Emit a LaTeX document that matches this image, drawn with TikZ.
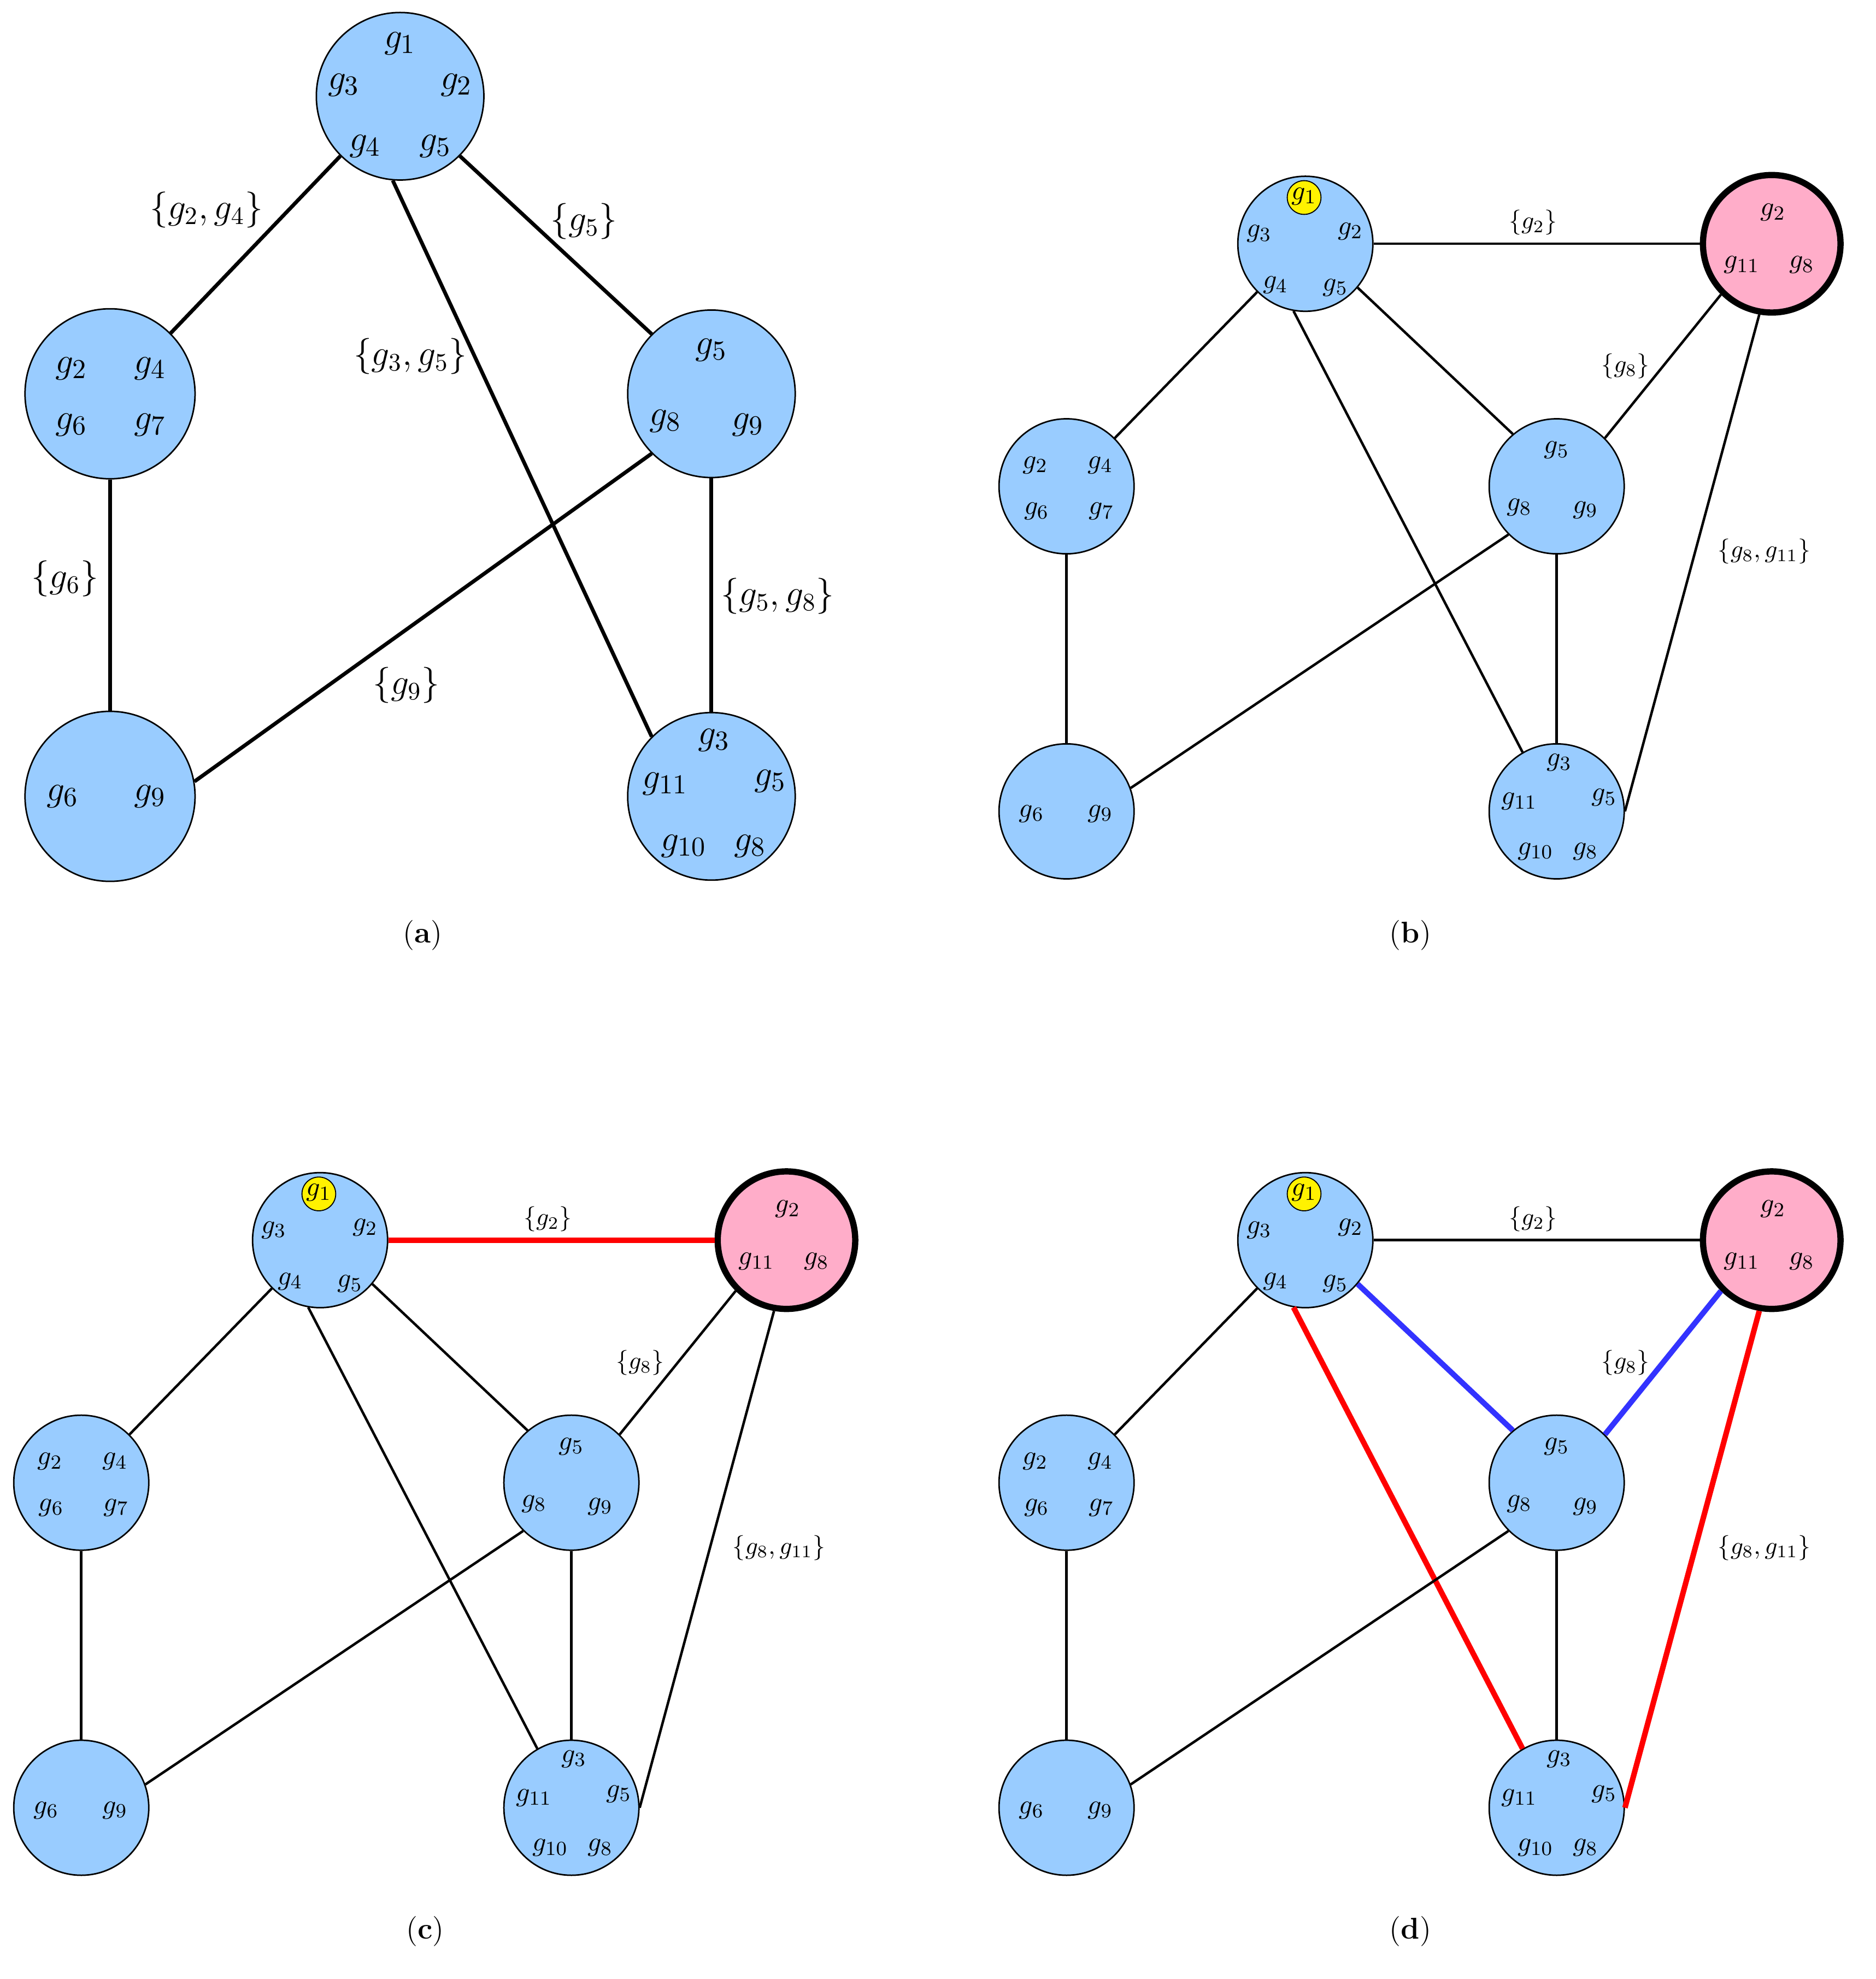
\documentclass[tikz,border=0pt]{standalone}
\usepackage{xcolor}
\definecolor{nblue}{HTML}{99CCFF}
\definecolor{npink}{HTML}{FFADC9}
\definecolor{eblue}{HTML}{3333FF}
\begin{document}
\begin{tikzpicture}[x=0.5pt,y=-0.5pt,
 bnode/.style={circle,draw,fill=nblue,line width=0.6pt,inner sep=0pt},
 pnode/.style={circle,draw,fill=npink,line width=2.5pt,inner sep=0pt,minimum size=55pt},
 glab/.style={inner sep=0pt,font=\fontsize{11}{13}\selectfont},
 biglab/.style={inner sep=0pt,font=\fontsize{15}{17}\selectfont},
 elab/.style={inner sep=1pt,font=\fontsize{10}{12}\selectfont},
 bigelab/.style={inner sep=1pt,font=\fontsize{14}{16}\selectfont},
 captxt/.style={font=\fontsize{12}{14}\selectfont},
 edge/.style={line width=1pt},
 bigedge/.style={line width=1.5pt},
 redge/.style={line width=2.2pt,red},
 bledge/.style={line width=2.2pt,eblue}]
\useasboundingbox (0,0) rectangle (1500,1583);
% ---------- panel (a)
\node[bnode,minimum size=67pt] (a1) at (320,77) {};
\node[bnode,minimum size=68pt] (a2) at (88,315) {};
\node[bnode,minimum size=67pt] (a3) at (569,315) {};
\node[bnode,minimum size=68pt] (a4) at (88,637) {};
\node[bnode,minimum size=67pt] (a5) at (569,637) {};
\node[biglab] (a1l1) at (320,35) {$g_1$};
\node[biglab] (a1l3) at (275,68) {$g_3$};
\node[biglab] (a1l2) at (365,68) {$g_2$};
\node[biglab] (a1l4) at (292,117) {$g_4$};
\node[biglab] (a1l5) at (348,117) {$g_5$};
\node[biglab] (a2l2) at (57,295) {$g_2$};
\node[biglab] (a2l4) at (120,295) {$g_4$};
\node[biglab] (a2l6) at (57,340) {$g_6$};
\node[biglab] (a2l7) at (120,340) {$g_7$};
\node[biglab] (a3l5) at (569,280) {$g_5$};
\node[biglab] (a3l8) at (532,337) {$g_8$};
\node[biglab] (a3l9) at (598,340) {$g_9$};
\node[biglab] (a4l6) at (50,637) {$g_6$};
\node[biglab] (a4l9) at (120,637) {$g_9$};
\node[biglab] (a5l3) at (571,592) {$g_3$};
\node[biglab] (a5l11) at (532,627) {$g_{11}$};
\node[biglab] (a5l5) at (616,625) {$g_5$};
\node[biglab] (a5l10) at (547,677) {$g_{10}$};
\node[biglab] (a5l8) at (600,677) {$g_8$};
\draw[bigedge] (a1.225) -- (a2.45);
\draw[bigedge] (a1.-45) -- (a3.135);
\draw[bigedge] (a1.-95) -- (a5.135);
\draw[bigedge] (a2) -- (a4);
\draw[bigedge] (a3.225) -- (a4.10);
\draw[bigedge] (a3) -- (a5);
\node[bigelab] (ea1) at (165,168) {$\{g_2,g_4\}$};
\node[bigelab] (ea2) at (467,177) {$\{g_5\}$};
\node[bigelab] (ea3) at (328,285) {$\{g_3,g_5\}$};
\node[bigelab] (ea4) at (52,463) {$\{g_6\}$};
\node[bigelab] (ea5) at (622,477) {$\{g_5,g_8\}$};
\node[bigelab] (ea6) at (325,548) {$\{g_9\}$};
\node[captxt] (capa) at (338,748) {(\textbf{a})};
% ---------- panels b,c,d
\newcommand\gpanel[9]{%
\begin{scope}[shift={(#2,#3)}]
\node[bnode,minimum size=54pt] (#1n1) at (1044,195) {};
\node[pnode] (#1n2) at (1417,195) {};
\node[bnode,minimum size=54pt] (#1n3) at (853,389) {};
\node[bnode,minimum size=54pt] (#1n4) at (1245,389) {};
\node[bnode,minimum size=54pt] (#1n5) at (853,649) {};
\node[bnode,minimum size=54pt] (#1n6) at (1245,649) {};
\node[circle,fill=yellow,draw,line width=0.4pt,minimum size=13.5pt,inner sep=0pt] (#1y) at (1043,158) {};
\node[glab] (#1a1) at (1043,157) {$g_1$};
\node[glab] (#1a3) at (1007,187) {$g_3$};
\node[glab] (#1a2) at (1080,185) {$g_2$};
\node[glab] (#1a4) at (1020,228) {$g_4$};
\node[glab] (#1a5) at (1068,230) {$g_5$};
\node[glab] (#1b2) at (1418,170) {$g_2$};
\node[glab] (#1b11) at (1393,212) {$g_{11}$};
\node[glab] (#1b8) at (1441,212) {$g_8$};
\node[glab] (#1c2) at (828,372) {$g_2$};
\node[glab] (#1c4) at (880,372) {$g_4$};
\node[glab] (#1c6) at (829,409) {$g_6$};
\node[glab] (#1c7) at (881,409) {$g_7$};
\node[glab] (#1d5) at (1245,360) {$g_5$};
\node[glab] (#1d8) at (1215,406) {$g_8$};
\node[glab] (#1d9) at (1268,408) {$g_9$};
\node[glab] (#1e6) at (825,651) {$g_6$};
\node[glab] (#1e9) at (880,651) {$g_9$};
\node[glab] (#1f3) at (1247,610) {$g_3$};
\node[glab] (#1f11) at (1215,641) {$g_{11}$};
\node[glab] (#1f5) at (1283,638) {$g_5$};
\node[glab] (#1f10) at (1228,681) {$g_{10}$};
\node[glab] (#1f8) at (1268,681) {$g_8$};
\draw[#4] (#1n1.east) -- (#1n2.west);
\draw[edge] (#1n1.225) -- (#1n3.45);
\draw[#5] (#1n1.-40) -- (#1n4.130);
\draw[#6] (#1n1.-100) -- (#1n6.120);
\draw[#7] (#1n2.225) -- (#1n4.45);
\draw[#8] (#1n2.-100) -- (#1n6.east);
\draw[edge] (#1n3) -- (#1n5);
\draw[edge] (#1n4.225) -- (#1n5.20);
\draw[edge] (#1n4) -- (#1n6);
\node[elab] (#1l1) at (1226,178) {$\{g_2\}$};
\node[elab] (#1l2) at (1300,293) {$\{g_8\}$};
\node[elab] (#1l3) at (1411,441) {$\{g_8,g_{11}\}$};
\node[captxt] (#1cap) at (1128,748) {(\textbf{#9})};
\end{scope}}
\gpanel{b}{0}{0}{edge}{edge}{edge}{edge}{edge}{b}
\gpanel{c}{-788}{797}{redge}{edge}{edge}{edge}{edge}{c}
\gpanel{d}{0}{797}{edge}{bledge}{redge}{bledge}{redge}{d}
\end{tikzpicture}
\end{document}
